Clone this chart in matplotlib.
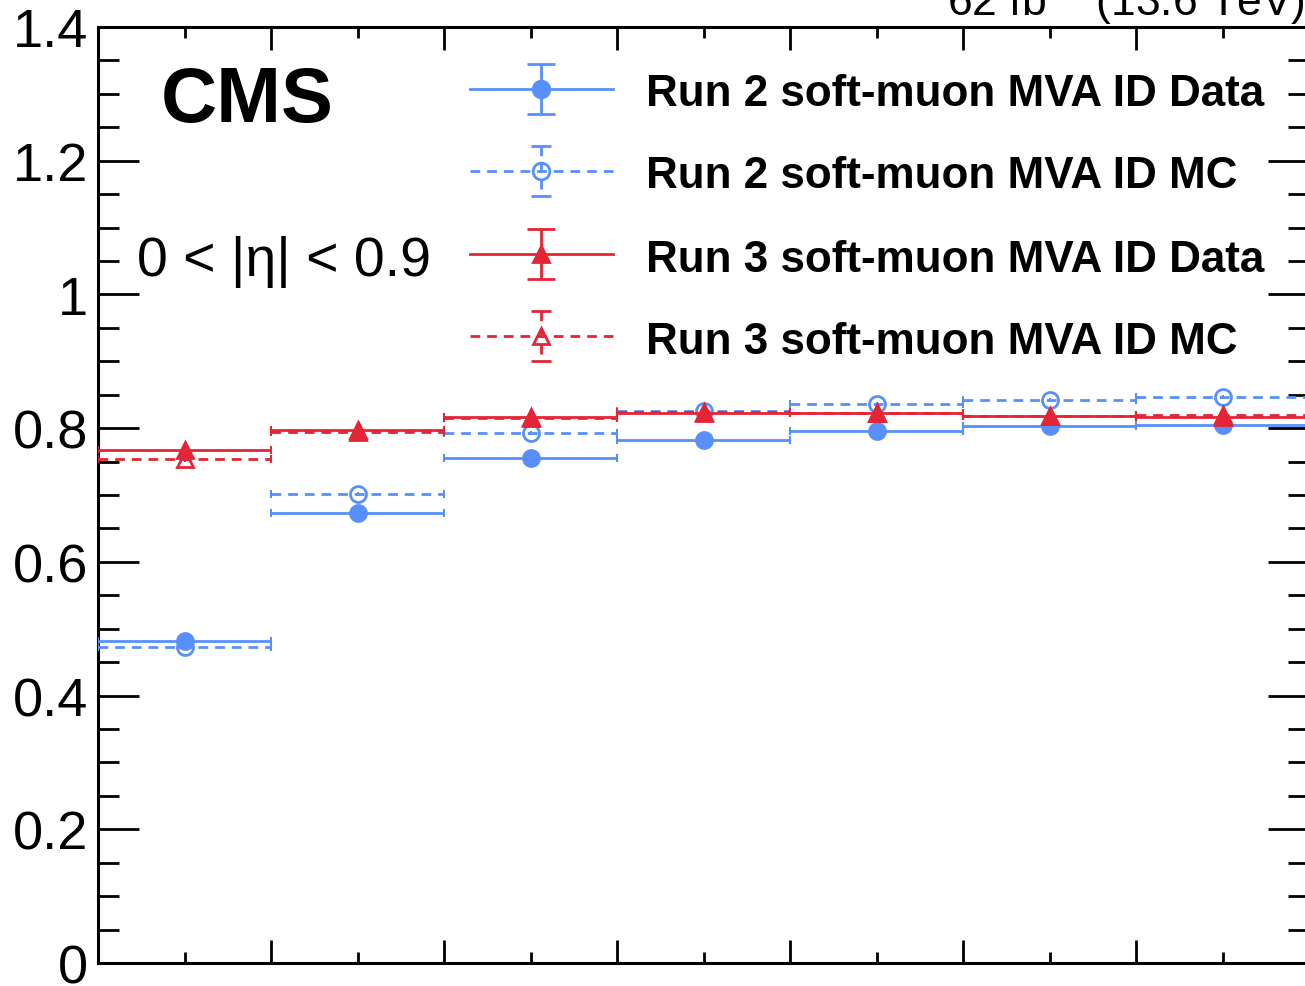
import numpy as np
import matplotlib.pyplot as plt
from matplotlib.ticker import MultipleLocator, FuncFormatter

plt.rcParams['font.family'] = ['Liberation Sans', 'DejaVu Sans']
plt.rcParams['mathtext.fontset'] = 'custom'
plt.rcParams['mathtext.rm'] = 'Liberation Sans'

# 7 bins, the x tick labels are cropped away in the original
bin_edges = np.arange(0, 8)
run2_data = [0.481, 0.673, 0.756, 0.783, 0.796, 0.803, 0.804]
run2_mc = [0.472, 0.701, 0.793, 0.826, 0.836, 0.842, 0.846]
run3_data = [0.768, 0.797, 0.816, 0.823, 0.822, 0.818, 0.816]
run3_mc = [0.754, 0.794, 0.815, 0.824, 0.823, 0.818, 0.819]
run2_data_err = [0.003] * 7
run2_mc_err = [0.003] * 7
run3_data_err = [0.008] * 7
run3_mc_err = [0.004] * 7
labels = ['Run 2 soft-muon MVA ID Data', 'Run 2 soft-muon MVA ID MC',
          'Run 3 soft-muon MVA ID Data', 'Run 3 soft-muon MVA ID MC']

BLUE = '#5790fc'
RED = '#e42536'
DASH = (0, (3.5, 2.5))

W, H = 1305, 987
fig = plt.figure(figsize=(W / 100, H / 100), dpi=100)
ax = fig.add_axes([98 / W, (H - 964) / H, (1309 - 98) / W, (964 - 28) / H])

centers = (bin_edges[:-1] + bin_edges[1:]) / 2
half = np.diff(bin_edges) / 2

series = [
    (run2_data, run2_data_err, BLUE, 'o', True, '-'),
    (run2_mc, run2_mc_err, BLUE, 'o', False, DASH),
    (run3_data, run3_data_err, RED, '^', True, '-'),
    (run3_mc, run3_mc_err, RED, '^', False, DASH),
]

for i, (vals, err, col, mk, filled, ls) in enumerate(series):
    eb = ax.errorbar(centers, vals, xerr=half, fmt='none', ecolor=col,
                     elinewidth=2, capsize=3, capthick=1.5, zorder=3 + i)
    eb[2][0].set_linestyle(ls)
    ax.errorbar(centers, vals, yerr=err, fmt=mk, color=col, ms=11.5,
                mfc=col if filled else 'none', mec=col, mew=2,
                elinewidth=1.5, capsize=0, zorder=3 + i)

ax.set_xlim(bin_edges[0], bin_edges[-1])
ax.set_ylim(0, 1.4)
ax.xaxis.set_major_locator(MultipleLocator(1))
ax.xaxis.set_minor_locator(MultipleLocator(0.5))
ax.yaxis.set_major_locator(MultipleLocator(0.2))
ax.yaxis.set_minor_locator(MultipleLocator(0.05))
ax.yaxis.set_major_formatter(FuncFormatter(lambda v, p: '%g' % round(v, 2)))
ax.tick_params(which='both', direction='in', top=True, right=True, width=2,
               labelbottom=False)
ax.tick_params(axis='y', which='major', length=29.5, labelsize=39, pad=7)
ax.tick_params(axis='y', which='minor', length=15)
ax.tick_params(axis='x', which='major', length=16.5)
ax.tick_params(axis='x', which='minor', length=8)
for s in ax.spines.values():
    s.set_linewidth(2.2)

# pixel overlay for labels and the legend
ov = fig.add_axes([0, 0, 1, 1], facecolor='none')
ov.set_xlim(0, W)
ov.set_ylim(H, 0)
ov.axis('off')

ov.text(161, 122, 'CMS', fontsize=56, fontweight='bold', va='baseline')
ov.text(137, 276, '0 < |η| < 0.9', fontsize=40, va='baseline')
fig.text(1.0, 1 - 17 / H, '62 fb$^{-1}$ (13.6 TeV)', fontsize=32,
         ha='right', va='baseline')

rows = [90, 172, 255, 337]
for (vals, err, col, mk, filled, ls), lab, y in zip(series, labels, rows):
    ov.plot([470, 613], [y, y], color=col, lw=2, ls=ls)
    eb = ov.errorbar([541], [y], yerr=[25], fmt=mk, color=col, ms=12,
                     mfc=col if filled else 'none', mec=col, mew=2,
                     elinewidth=2, capsize=10 if filled else 7, capthick=2)
    eb[2][0].set_linestyle(ls)
    ov.text(646, y + 5, lab, fontsize=31.7, fontweight='bold', va='center')

fig.savefig('out.png', dpi=100)
